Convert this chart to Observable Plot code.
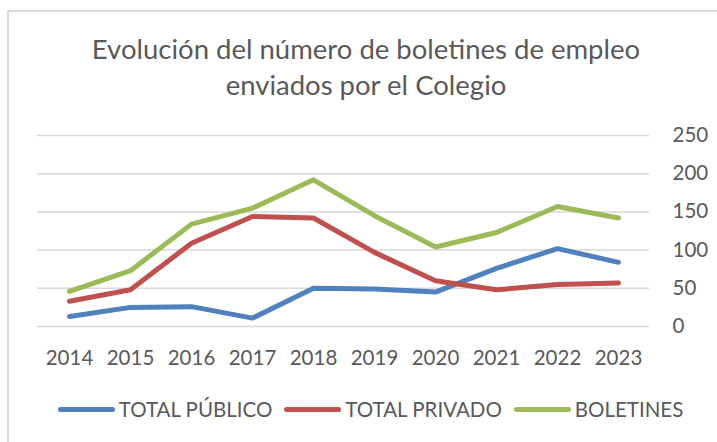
<!DOCTYPE html>
<html><head><meta charset="utf-8">
<script src="https://cdn.jsdelivr.net/npm/d3@7"></script>
<script src="https://cdn.jsdelivr.net/npm/@observablehq/plot@0.6"></script>
<style>
html,body{margin:0;padding:0;background:#fff;width:717px;height:442px;overflow:hidden;}
#frame{position:absolute;left:7px;top:10px;width:740px;height:460px;border-left:2px solid #d9d9d9;border-top:2px solid #d9d9d9;}
#title{position:absolute;left:0;width:732px;top:31px;text-align:center;font-family:Lato;font-size:27.5px;color:#595959;line-height:36px;}
#chart{position:absolute;left:0;top:110px;}
#legend{position:absolute;left:0;width:741px;top:397px;display:flex;justify-content:center;align-items:center;font-family:Lato;font-size:20.5px;color:#595959;}
.item{display:flex;align-items:center;margin:0 6px;}
.sw{width:57px;height:5px;border-radius:3px;margin-right:4px;}
</style>
</head><body>
<div id="frame"></div>
<div id="title">Evolución del número de boletines de empleo<br>enviados por el Colegio</div>
<div id="chart"></div>
<div id="legend"></div>
<script>
const years = ["2014","2015","2016","2017","2018","2019","2020","2021","2022","2023"];
const totalPublico = [13,25,26,11,50,49,45,76,102,84];
const totalPrivado = [33,48,109,144,142,97,60,48,55,57];
const boletines = [46,73,134,155,192,145,104,123,157,142];
const seriesNames = ["TOTAL PÚBLICO","TOTAL PRIVADO","BOLETINES"];
const seriesColors = ["#4f81bd","#c0504d","#9bbb59"];
const yTicks = [0,50,100,150,200,250];

const allSeries = [totalPublico,totalPrivado,boletines];
const data = [];
allSeries.forEach((vals,i)=>vals.forEach((v,j)=>data.push({year:years[j],value:v,series:seriesNames[i]})));

const chart = Plot.plot({
  width: 717, height: 270,
  marginLeft: 37, marginRight: 68, marginTop: 25, marginBottom: 54,
  style: {fontFamily: "Lato", fontSize: "20px", color: "#595959", background: "transparent", overflow: "visible"},
  x: {type: "point", domain: years, padding: 0.5, label: null},
  y: {domain: [0,250], label: null},
  color: {domain: seriesNames, range: seriesColors},
  marks: [
    Plot.gridY(yTicks, {stroke: "#d9d9d9", strokeWidth: 1.5, strokeOpacity: 1}),
    Plot.axisY(yTicks, {anchor: "right", tickSize: 0, tickPadding: 23, label: null, fontSize: 20.5}),
    Plot.axisX(years, {anchor: "bottom", tickSize: 0, tickPadding: 24, label: null, fontSize: 20.5}),
    Plot.lineY(data, {x: "year", y: "value", z: "series", stroke: "series", strokeWidth: 5, strokeLinecap: "round", strokeLinejoin: "round"})
  ]
});
document.getElementById("chart").appendChild(chart);

const leg = document.getElementById("legend");
seriesNames.forEach((n,i)=>{
  const it = document.createElement("div"); it.className="item";
  const sw = document.createElement("div"); sw.className="sw"; sw.style.background = seriesColors[i];
  const tx = document.createElement("span"); tx.textContent = n;
  it.appendChild(sw); it.appendChild(tx); leg.appendChild(it);
});
</script>
</body></html>
